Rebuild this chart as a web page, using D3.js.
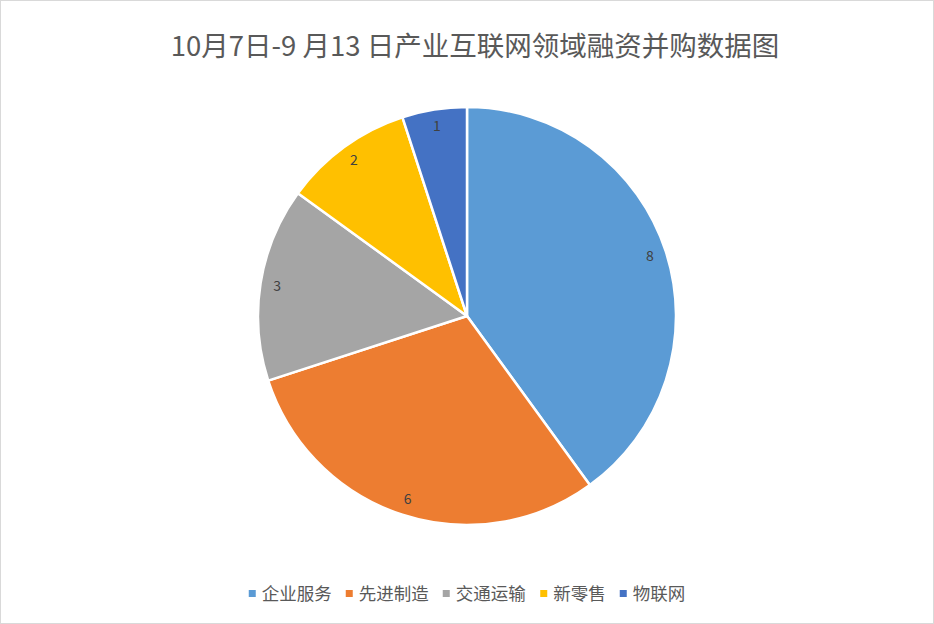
<!DOCTYPE html>
<html>
<head>
<meta charset="utf-8">
<script src="https://cdn.jsdelivr.net/npm/d3@7"></script>
<style>
  html, body { margin: 0; padding: 0; background: #fff; }
  svg { display: block; }
</style>
</head>
<body>
<div id="chart"></div>
<script>
const title = "10月7日-9 月13 日产业互联网领域融资并购数据图";
const categories = ["企业服务", "先进制造", "交通运输", "新零售", "物联网"];
const values = [8, 6, 3, 2, 1];
const colors = ["#5B9BD5", "#ED7D31", "#A5A5A5", "#FFC000", "#4472C4"];

const width = 934, height = 624;
const cx = 467, cy = 316, radius = 209;
const font = "'Noto Sans CJK SC', 'Noto Sans', sans-serif";

const svg = d3.select("#chart").append("svg")
    .attr("width", width)
    .attr("height", height)
    .style("font-family", font);

svg.append("rect")
    .attr("x", 0.5).attr("y", 0.5)
    .attr("width", width - 1).attr("height", height - 1)
    .attr("fill", "#fff")
    .attr("stroke", "#d9d9d9");

svg.append("text")
    .attr("x", 475)
    .attr("y", 56)
    .attr("text-anchor", "middle")
    .attr("font-size", 27.5)
    .attr("fill", "#595959")
    .text(title);

const data = categories.map((c, i) => ({ name: c, value: values[i], color: colors[i] }));

const pie = d3.pie().value(d => d.value).sort(null);
const arc = d3.arc().innerRadius(0).outerRadius(radius);
const labelArc = d3.arc().innerRadius(radius * 0.92).outerRadius(radius * 0.92);

const g = svg.append("g").attr("transform", `translate(${cx},${cy})`);
const arcs = pie(data);

g.selectAll("path")
    .data(arcs)
    .join("path")
    .attr("d", arc)
    .attr("fill", d => d.data.color)
    .attr("stroke", "#fff")
    .attr("stroke-width", 2.5)
    .attr("stroke-linejoin", "round");

g.selectAll("text")
    .data(arcs)
    .join("text")
    .attr("transform", d => `translate(${labelArc.centroid(d)})`)
    .attr("text-anchor", "middle")
    .attr("dy", "0.35em")
    .attr("font-size", 14)
    .attr("fill", "#404040")
    .text(d => d.data.value);

// legend
const legend = svg.append("g").attr("font-size", 17.5).attr("fill", "#595959");
const items = legend.selectAll("g")
    .data(data)
    .join("g");
items.append("rect")
    .attr("width", 7).attr("height", 7)
    .attr("y", -4)
    .attr("fill", d => d.color);
items.append("text")
    .attr("x", 13)
    .attr("dy", "0.35em")
    .text(d => d.name);

let x = 0;
items.each(function () {
    d3.select(this).attr("transform", `translate(${x},0)`);
    x += this.getBBox().width + 14;
});
const total = x - 14;
legend.attr("transform", `translate(${467 - total / 2},594)`);
</script>
</body>
</html>
